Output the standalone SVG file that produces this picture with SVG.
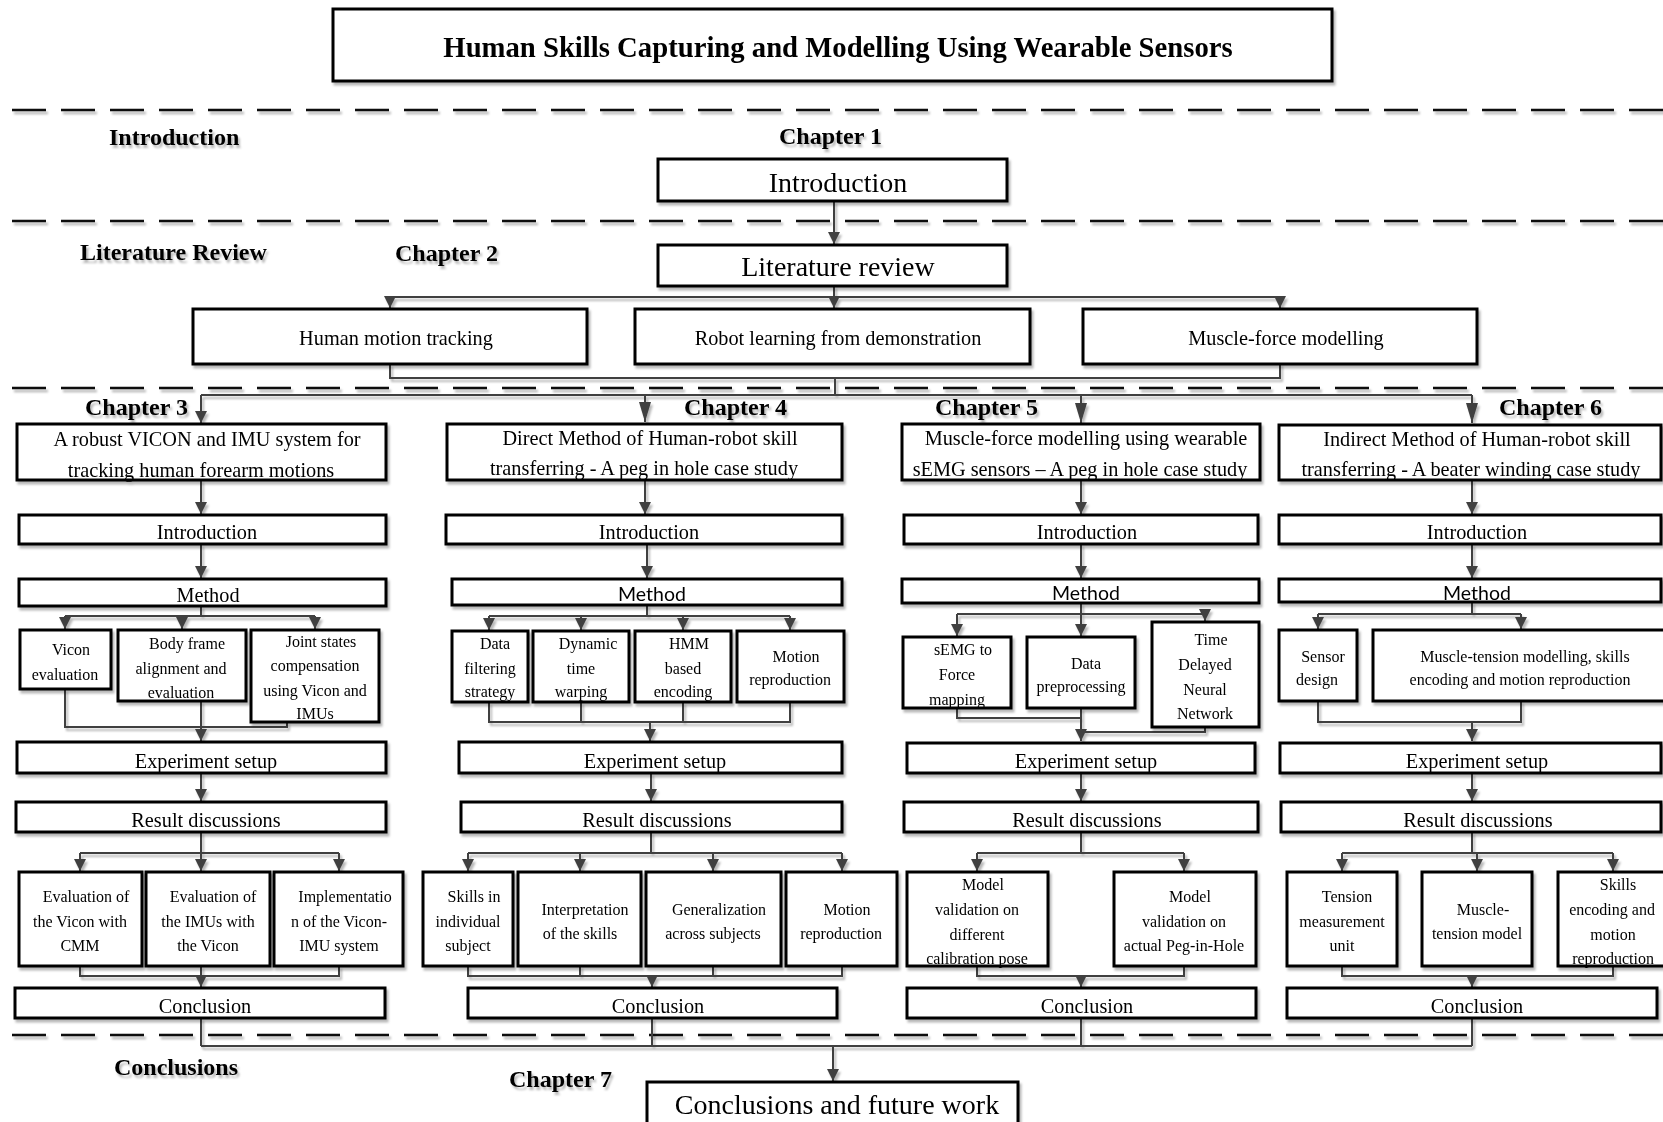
<svg xmlns="http://www.w3.org/2000/svg" width="1663" height="1122" viewBox="0 0 1663 1122">
  <defs>
    <style>
      .box { fill: #fff; stroke: #000; stroke-width: 3; }
      .t { font-family: "Liberation Serif", "Times New Roman", serif; fill: #000; text-anchor: middle; }
      .lbl { font-family: "Liberation Serif", "Times New Roman", serif; font-weight: bold; font-size: 24px; fill: #000; }
      .s16 { font-size: 16px; }
      .s20 { font-size: 20.3px; }
      .s28 { font-size: 28px; }
      .sans { font-family: Lato, "Open Sans", "Liberation Sans", sans-serif; font-size: 19.5px; }
      .c { fill: none; stroke: #404040; stroke-width: 2; }
      .ar { fill: none; stroke: #404040; stroke-width: 2; marker-end: url(#ah); }
      .arb { fill: none; stroke: #404040; stroke-width: 2; marker-end: url(#ahb); }
      .dash { stroke: #111; stroke-width: 2.6; stroke-dasharray: 34 15; }
    </style>
    <marker id="ah" viewBox="0 0 12 12" markerUnits="userSpaceOnUse" markerWidth="12" markerHeight="12" refX="12" refY="6" orient="auto">
      <path d="M0,0 L12,6 L0,12 z" fill="#404040"/>
    </marker>
    <marker id="ahb" viewBox="0 0 20 12" markerUnits="userSpaceOnUse" markerWidth="20" markerHeight="12" refX="20" refY="6" orient="auto">
      <path d="M0,0 L20,6 L0,12 z" fill="#404040"/>
    </marker>
    <filter id="sh" filterUnits="userSpaceOnUse" x="0" y="0" width="1663" height="1122">
      <feDropShadow dx="2" dy="3" stdDeviation="1.2" flood-color="#000" flood-opacity="0.28"/>
    </filter>
  </defs>

  <rect x="0" y="0" width="1663" height="1122" fill="#fff"/>

  <!-- section separators -->
  <g id="separators" filter="url(#sh)">
    <line class="dash" x1="12" y1="110" x2="1663" y2="110"/>
    <line class="dash" x1="12" y1="221" x2="1663" y2="221"/>
    <line class="dash" x1="12" y1="388" x2="1663" y2="388"/>
    <line class="dash" x1="12" y1="1035" x2="1663" y2="1035"/>
  </g>

  <!-- section and chapter labels -->
  <g id="labels" filter="url(#sh)">
    <text class="lbl" x="109" y="145">Introduction</text>
    <text class="lbl" x="779" y="144">Chapter 1</text>
    <text class="lbl" x="80" y="260">Literature Review</text>
    <text class="lbl" x="395" y="261">Chapter 2</text>
    <text class="lbl" x="85" y="415">Chapter 3</text>
    <text class="lbl" x="684" y="415">Chapter 4</text>
    <text class="lbl" x="935" y="415">Chapter 5</text>
    <text class="lbl" x="1499" y="415">Chapter 6</text>
    <text class="lbl" x="114" y="1075">Conclusions</text>
    <text class="lbl" x="509" y="1087">Chapter 7</text>
  </g>

  <!-- connectors -->
  <g id="connectors" filter="url(#sh)">
    <!-- chapter 1 and 2 -->
    <path class="ar" d="M834,201 V244"/>
    <path class="c" d="M834,286 V297 M390,297 H1280"/>
    <path class="ar" d="M390,297 V308"/>
    <path class="ar" d="M834,297 V308"/>
    <path class="ar" d="M1280,297 V308"/>
    <path class="c" d="M390,364 V378 H1280 V363 M835,378 V395 M201,395 H1472"/>
    <path class="ar" d="M201,395 V423"/>
    <path class="arb" d="M645,395 V422"/>
    <path class="arb" d="M1081,395 V423"/>
    <path class="arb" d="M1472,395 V423"/>

    <!-- chapter 3 -->
    <path class="ar" d="M201,480 V514"/>
    <path class="ar" d="M201,544 V578"/>
    <path class="c" d="M201,606 V616 M65,616 H315"/>
    <path class="ar" d="M65,616 V629"/>
    <path class="ar" d="M182,616 V629"/>
    <path class="ar" d="M315,616 V629"/>
    <path class="c" d="M65,689 V727 H287 V722"/>
    <path class="ar" d="M201,701 V741"/>
    <path class="ar" d="M201,773 V801"/>
    <path class="c" d="M201,832 V853 M80,853 H339"/>
    <path class="ar" d="M80,853 V871"/>
    <path class="ar" d="M201,853 V871"/>
    <path class="ar" d="M339,853 V871"/>
    <path class="c" d="M80,966 V976 H339 V966"/>
    <path class="ar" d="M201,966 V987"/>
    <path class="c" d="M201,1018 V1046"/>

    <!-- chapter 4 -->
    <path class="ar" d="M645,480 V514"/>
    <path class="ar" d="M647,544 V578"/>
    <path class="c" d="M647,605 V616 M489,616 H790"/>
    <path class="ar" d="M489,616 V630"/>
    <path class="ar" d="M581,616 V630"/>
    <path class="ar" d="M683,616 V630"/>
    <path class="ar" d="M790,616 V630"/>
    <path class="c" d="M489,702 V722 H790 V702 M581,702 V722 M683,702 V722"/>
    <path class="ar" d="M650,722 V741"/>
    <path class="ar" d="M651,773 V801"/>
    <path class="c" d="M651,832 V853 M468,853 H842"/>
    <path class="ar" d="M468,853 V871"/>
    <path class="ar" d="M580,853 V871"/>
    <path class="ar" d="M713,853 V871"/>
    <path class="ar" d="M842,853 V871"/>
    <path class="c" d="M468,966 V976 H842 V966 M580,966 V976 M713,966 V976"/>
    <path class="ar" d="M652,976 V987"/>
    <path class="c" d="M652,1018 V1046"/>

    <!-- chapter 5 -->
    <path class="ar" d="M1081,480 V514"/>
    <path class="ar" d="M1081,544 V578"/>
    <path class="ar" d="M1081,603 V636"/>
    <path class="c" d="M957,614 H1205"/>
    <path class="ar" d="M957,614 V636"/>
    <path class="ar" d="M1205,614 V621"/>
    <path class="c" d="M957,708 V718 H1081 M1205,727 V732 H1081"/>
    <path class="ar" d="M1081,708 V741"/>
    <path class="ar" d="M1081,773 V801"/>
    <path class="c" d="M1081,832 V853 M977,853 H1184"/>
    <path class="ar" d="M977,853 V871"/>
    <path class="ar" d="M1184,853 V871"/>
    <path class="c" d="M977,966 V976 H1184 V966"/>
    <path class="ar" d="M1081,976 V987"/>
    <path class="c" d="M1081,1018 V1046"/>

    <!-- chapter 6 -->
    <path class="ar" d="M1472,480 V514"/>
    <path class="ar" d="M1472,544 V578"/>
    <path class="c" d="M1472,602 V614 M1318,614 H1521"/>
    <path class="ar" d="M1318,614 V629"/>
    <path class="ar" d="M1521,614 V629"/>
    <path class="c" d="M1318,701 V722 H1521 V701"/>
    <path class="ar" d="M1472,722 V741"/>
    <path class="ar" d="M1472,773 V801"/>
    <path class="c" d="M1472,832 V853 M1342,853 H1613"/>
    <path class="ar" d="M1342,853 V871"/>
    <path class="ar" d="M1477,853 V871"/>
    <path class="ar" d="M1613,853 V871"/>
    <path class="c" d="M1342,966 V976 H1613 V966"/>
    <path class="ar" d="M1472,976 V987"/>
    <path class="c" d="M1472,1018 V1046"/>

    <!-- chapter 7 -->
    <path class="c" d="M201,1046 H1472"/>
    <path class="ar" d="M833,1046 V1081"/>
  </g>

  <!-- nodes -->
  <g id="nodes" filter="url(#sh)">
    <g id="title">
      <rect class="box" x="333" y="9" width="999" height="72"/>
      <text class="t" x="838" y="57" font-size="28.7" font-weight="bold">Human Skills Capturing and Modelling Using Wearable Sensors</text>
    </g>

    <g id="ch1-introduction">
      <rect class="box" x="658" y="159" width="349" height="42"/>
      <text class="t s28" x="838" y="192">Introduction</text>
    </g>
    <g id="ch2-literature-review">
      <rect class="box" x="658" y="245" width="349" height="41"/>
      <text class="t s28" x="838" y="276">Literature review</text>
    </g>
    <g id="ch2-motion-tracking">
      <rect class="box" x="193" y="309" width="394" height="55"/>
      <text class="t s20" x="396" y="345">Human motion tracking</text>
    </g>
    <g id="ch2-robot-learning">
      <rect class="box" x="635" y="309" width="395" height="55"/>
      <text class="t s20" x="838" y="345">Robot learning from demonstration</text>
    </g>
    <g id="ch2-muscle-force">
      <rect class="box" x="1083" y="309" width="394" height="55"/>
      <text class="t s20" x="1286" y="345">Muscle-force modelling</text>
    </g>

    <!-- chapter 3 -->
    <g id="ch3-title">
      <rect class="box" x="17" y="424" width="369" height="56"/>
      <text class="t s20" x="207" y="446">A robust VICON and IMU system for</text>
      <text class="t s20" x="201" y="477">tracking human forearm motions</text>
    </g>
    <g id="ch3-introduction">
      <rect class="box" x="19" y="515" width="367" height="29"/>
      <text class="t s20" x="207" y="539">Introduction</text>
    </g>
    <g id="ch3-method">
      <rect class="box" x="19" y="579" width="367" height="27"/>
      <text class="t s20" x="208" y="602">Method</text>
    </g>
    <g id="ch3-vicon-evaluation">
      <rect class="box" x="20" y="630" width="91" height="59"/>
      <text class="t s16" x="71" y="655">Vicon</text>
      <text class="t s16" x="65" y="680">evaluation</text>
    </g>
    <g id="ch3-body-frame">
      <rect class="box" x="118" y="630" width="128" height="71"/>
      <text class="t s16" x="187" y="649">Body frame</text>
      <text class="t s16" x="181" y="674">alignment and</text>
      <text class="t s16" x="181" y="698">evaluation</text>
    </g>
    <g id="ch3-joint-states">
      <rect class="box" x="251" y="630" width="128" height="92"/>
      <text class="t s16" x="321" y="647">Joint states</text>
      <text class="t s16" x="315" y="671">compensation</text>
      <text class="t s16" x="315" y="696">using Vicon and</text>
      <text class="t s16" x="315" y="719">IMUs</text>
    </g>
    <g id="ch3-experiment">
      <rect class="box" x="17" y="742" width="369" height="31"/>
      <text class="t s20" x="206" y="768">Experiment setup</text>
    </g>
    <g id="ch3-results">
      <rect class="box" x="16" y="802" width="370" height="30"/>
      <text class="t s20" x="206" y="827">Result discussions</text>
    </g>
    <g id="ch3-eval-vicon">
      <rect class="box" x="19" y="872" width="123" height="94"/>
      <text class="t s16" x="86" y="902">Evaluation of</text>
      <text class="t s16" x="80" y="927">the Vicon with</text>
      <text class="t s16" x="80" y="951">CMM</text>
    </g>
    <g id="ch3-eval-imu">
      <rect class="box" x="146" y="872" width="124" height="94"/>
      <text class="t s16" x="213" y="902">Evaluation of</text>
      <text class="t s16" x="208" y="927">the IMUs with</text>
      <text class="t s16" x="208" y="951">the Vicon</text>
    </g>
    <g id="ch3-implementation">
      <rect class="box" x="274" y="872" width="129" height="94"/>
      <text class="t s16" x="345" y="902">Implementatio</text>
      <text class="t s16" x="339" y="927">n of the Vicon-</text>
      <text class="t s16" x="339" y="951">IMU system</text>
    </g>
    <g id="ch3-conclusion">
      <rect class="box" x="15" y="988" width="370" height="30"/>
      <text class="t s20" x="205" y="1013">Conclusion</text>
    </g>

    <!-- chapter 4 -->
    <g id="ch4-title">
      <rect class="box" x="447" y="424" width="395" height="56"/>
      <text class="t s20" x="650" y="445">Direct Method of Human-robot skill</text>
      <text class="t s20" x="644" y="475">transferring - A peg in hole case study</text>
    </g>
    <g id="ch4-introduction">
      <rect class="box" x="446" y="515" width="396" height="29"/>
      <text class="t s20" x="649" y="539">Introduction</text>
    </g>
    <g id="ch4-method">
      <rect class="box" x="452" y="579" width="390" height="26"/>
      <text class="t sans" x="652" y="601">Method</text>
    </g>
    <g id="ch4-data-filtering">
      <rect class="box" x="452" y="631" width="76" height="71"/>
      <text class="t s16" x="495" y="649">Data</text>
      <text class="t s16" x="490" y="674">filtering</text>
      <text class="t s16" x="490" y="697">strategy</text>
    </g>
    <g id="ch4-dtw">
      <rect class="box" x="533" y="631" width="96" height="71"/>
      <text class="t s16" x="588" y="649">Dynamic</text>
      <text class="t s16" x="581" y="674">time</text>
      <text class="t s16" x="581" y="697">warping</text>
    </g>
    <g id="ch4-hmm">
      <rect class="box" x="635" y="631" width="96" height="71"/>
      <text class="t s16" x="689" y="649">HMM</text>
      <text class="t s16" x="683" y="674">based</text>
      <text class="t s16" x="683" y="697">encoding</text>
    </g>
    <g id="ch4-motion-method">
      <rect class="box" x="737" y="631" width="107" height="71"/>
      <text class="t s16" x="796" y="662">Motion</text>
      <text class="t s16" x="790" y="685">reproduction</text>
    </g>
    <g id="ch4-experiment">
      <rect class="box" x="459" y="742" width="383" height="31"/>
      <text class="t s20" x="655" y="768">Experiment setup</text>
    </g>
    <g id="ch4-results">
      <rect class="box" x="461" y="802" width="381" height="30"/>
      <text class="t s20" x="657" y="827">Result discussions</text>
    </g>
    <g id="ch4-skills-individual">
      <rect class="box" x="423" y="872" width="90" height="94"/>
      <text class="t s16" x="474" y="902">Skills in</text>
      <text class="t s16" x="468" y="927">individual</text>
      <text class="t s16" x="468" y="951">subject</text>
    </g>
    <g id="ch4-interpretation">
      <rect class="box" x="518" y="872" width="123" height="94"/>
      <text class="t s16" x="585" y="915">Interpretation</text>
      <text class="t s16" x="580" y="939">of the skills</text>
    </g>
    <g id="ch4-generalization">
      <rect class="box" x="646" y="872" width="135" height="94"/>
      <text class="t s16" x="719" y="915">Generalization</text>
      <text class="t s16" x="713" y="939">across subjects</text>
    </g>
    <g id="ch4-motion-result">
      <rect class="box" x="786" y="872" width="111" height="94"/>
      <text class="t s16" x="847" y="915">Motion</text>
      <text class="t s16" x="841" y="939">reproduction</text>
    </g>
    <g id="ch4-conclusion">
      <rect class="box" x="468" y="988" width="369" height="30"/>
      <text class="t s20" x="658" y="1013">Conclusion</text>
    </g>

    <!-- chapter 5 -->
    <g id="ch5-title">
      <rect class="box" x="902" y="424" width="358" height="56"/>
      <text class="t s20" x="1086" y="445">Muscle-force modelling using wearable</text>
      <text class="t s20" x="1080" y="476">sEMG sensors – A peg in hole case study</text>
    </g>
    <g id="ch5-introduction">
      <rect class="box" x="904" y="515" width="354" height="29"/>
      <text class="t s20" x="1087" y="539">Introduction</text>
    </g>
    <g id="ch5-method">
      <rect class="box" x="902" y="579" width="357" height="24"/>
      <text class="t sans" x="1086" y="600">Method</text>
    </g>
    <g id="ch5-semg-force">
      <rect class="box" x="903" y="637" width="108" height="71"/>
      <text class="t s16" x="963" y="655">sEMG to</text>
      <text class="t s16" x="957" y="680">Force</text>
      <text class="t s16" x="957" y="705">mapping</text>
    </g>
    <g id="ch5-preprocessing">
      <rect class="box" x="1027" y="637" width="108" height="71"/>
      <text class="t s16" x="1086" y="669">Data</text>
      <text class="t s16" x="1081" y="692">preprocessing</text>
    </g>
    <g id="ch5-tdnn">
      <rect class="box" x="1152" y="622" width="107" height="105"/>
      <text class="t s16" x="1211" y="645">Time</text>
      <text class="t s16" x="1205" y="670">Delayed</text>
      <text class="t s16" x="1205" y="695">Neural</text>
      <text class="t s16" x="1205" y="719">Network</text>
    </g>
    <g id="ch5-experiment">
      <rect class="box" x="907" y="743" width="348" height="30"/>
      <text class="t s20" x="1086" y="768">Experiment setup</text>
    </g>
    <g id="ch5-results">
      <rect class="box" x="904" y="802" width="354" height="30"/>
      <text class="t s20" x="1087" y="827">Result discussions</text>
    </g>
    <g id="ch5-validation-pose">
      <rect class="box" x="907" y="872" width="141" height="94"/>
      <text class="t s16" x="983" y="890">Model</text>
      <text class="t s16" x="977" y="915">validation on</text>
      <text class="t s16" x="977" y="940">different</text>
      <text class="t s16" x="977" y="964">calibration pose</text>
    </g>
    <g id="ch5-validation-peg">
      <rect class="box" x="1114" y="872" width="142" height="94"/>
      <text class="t s16" x="1190" y="902">Model</text>
      <text class="t s16" x="1184" y="927">validation on</text>
      <text class="t s16" x="1184" y="951">actual Peg-in-Hole</text>
    </g>
    <g id="ch5-conclusion">
      <rect class="box" x="907" y="988" width="349" height="30"/>
      <text class="t s20" x="1087" y="1013">Conclusion</text>
    </g>

    <!-- chapter 6 -->
    <g id="ch6-title">
      <rect class="box" x="1279" y="425" width="382" height="55"/>
      <text class="t s20" x="1477" y="446">Indirect Method of Human-robot skill</text>
      <text class="t s20" x="1471" y="476">transferring - A beater winding case study</text>
    </g>
    <g id="ch6-introduction">
      <rect class="box" x="1279" y="515" width="382" height="29"/>
      <text class="t s20" x="1477" y="539">Introduction</text>
    </g>
    <g id="ch6-method">
      <rect class="box" x="1279" y="579" width="382" height="23"/>
      <text class="t sans" x="1477" y="600">Method</text>
    </g>
    <g id="ch6-sensor-design">
      <rect class="box" x="1279" y="630" width="78" height="71"/>
      <text class="t s16" x="1323" y="662">Sensor</text>
      <text class="t s16" x="1317" y="685">design</text>
    </g>
    <g id="ch6-muscle-tension-modelling">
      <rect class="box" x="1373" y="630" width="295" height="71"/>
      <text class="t s16" x="1525" y="662">Muscle-tension modelling, skills</text>
      <text class="t s16" x="1520" y="685">encoding and motion reproduction</text>
    </g>
    <g id="ch6-experiment">
      <rect class="box" x="1280" y="743" width="381" height="30"/>
      <text class="t s20" x="1477" y="768">Experiment setup</text>
    </g>
    <g id="ch6-results">
      <rect class="box" x="1281" y="802" width="380" height="30"/>
      <text class="t s20" x="1478" y="827">Result discussions</text>
    </g>
    <g id="ch6-tension-unit">
      <rect class="box" x="1287" y="872" width="110" height="94"/>
      <text class="t s16" x="1347" y="902">Tension</text>
      <text class="t s16" x="1342" y="927">measurement</text>
      <text class="t s16" x="1342" y="951">unit</text>
    </g>
    <g id="ch6-tension-model">
      <rect class="box" x="1422" y="872" width="110" height="94"/>
      <text class="t s16" x="1483" y="915">Muscle-</text>
      <text class="t s16" x="1477" y="939">tension model</text>
    </g>
    <g id="ch6-skills-encoding">
      <rect class="box" x="1558" y="872" width="110" height="94"/>
      <text class="t s16" x="1618" y="890">Skills</text>
      <text class="t s16" x="1612" y="915">encoding and</text>
      <text class="t s16" x="1613" y="940">motion</text>
      <text class="t s16" x="1613" y="964">reproduction</text>
    </g>
    <g id="ch6-conclusion">
      <rect class="box" x="1287" y="988" width="370" height="30"/>
      <text class="t s20" x="1477" y="1013">Conclusion</text>
    </g>

    <!-- chapter 7 -->
    <g id="ch7-conclusions">
      <rect class="box" x="647" y="1082" width="371" height="50"/>
      <text class="t s28" x="837" y="1114">Conclusions and future work</text>
    </g>
  </g>
</svg>
